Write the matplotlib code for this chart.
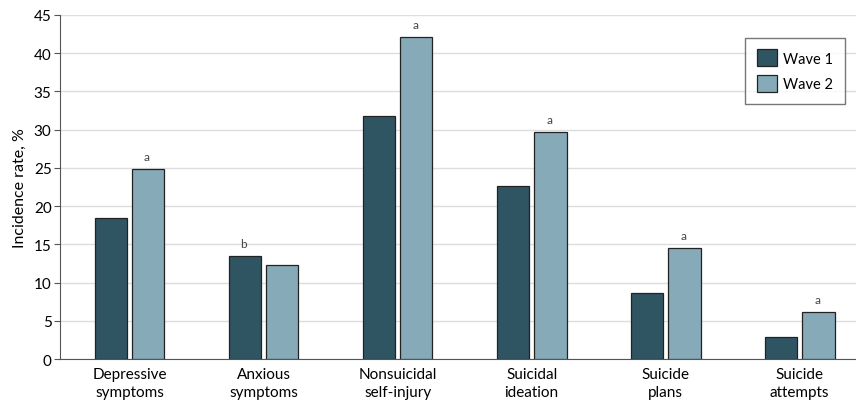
import numpy as np
import matplotlib.pyplot as plt

categories = ['Depressive\nsymptoms', 'Anxious\nsymptoms', 'Nonsuicidal\nself-injury',
              'Suicidal\nideation', 'Suicide\nplans', 'Suicide\nattempts']
wave1 = [18.4, 13.5, 31.8, 22.6, 8.6, 2.9]
wave2 = [24.9, 12.3, 42.1, 29.7, 14.5, 6.2]
marks = ['a', 'b', 'a', 'a', 'a', 'a']

plt.rcParams['font.family'] = ['Lato', 'DejaVu Sans']

fig = plt.figure(figsize=(8.56, 4.06), dpi=100)
ax = fig.add_axes([0.070, 0.1133, 0.930, 0.8473])

x = np.arange(len(categories))
w = 0.24
gap = 0.02
ax.bar(x - w/2 - gap, wave1, w, color='#2f5563', edgecolor='#222222', linewidth=0.9, label='Wave 1', zorder=3)
ax.bar(x + w/2 + gap, wave2, w, color='#86aab8', edgecolor='#222222', linewidth=0.9, label='Wave 2', zorder=3)

# significance letters above the higher bar
for i in range(len(categories)):
    top = max(wave1[i], wave2[i])
    xi = x[i] + w/2 + gap if wave2[i] >= wave1[i] else x[i] - w/2 - gap
    ax.text(xi - 0.01, top + 0.9, marks[i], ha='center', va='bottom', fontsize=8.5, color='#444444')

ax.set_xlim(-0.52, 5.42)
ax.set_ylim(0, 45)
ax.set_yticks(range(0, 46, 5))
ax.set_xticks(x)
ax.set_xticklabels(categories, fontsize=11, linespacing=1.3)
ax.tick_params(axis='x', length=0, pad=6)
ax.tick_params(axis='y', labelsize=11, length=4, color='#555555', pad=2)
ax.set_ylabel('Incidence rate, %', fontsize=11.5, labelpad=5)

ax.grid(axis='y', color='#dddddd', linewidth=1, zorder=0)
ax.set_axisbelow(True)
for s in ['top', 'right']:
    ax.spines[s].set_visible(False)
ax.spines['left'].set_color('#555555')
ax.spines['bottom'].set_color('#555555')

leg = ax.legend(loc='upper right', bbox_to_anchor=(0.995, 0.955), fontsize=10.5, frameon=True,
                fancybox=False, edgecolor='#555555', handlelength=1.4, handleheight=1.4,
                borderpad=0.8, labelspacing=0.6, handletextpad=0.4)
leg.get_frame().set_linewidth(1)

fig.savefig('out.png', dpi=100)
